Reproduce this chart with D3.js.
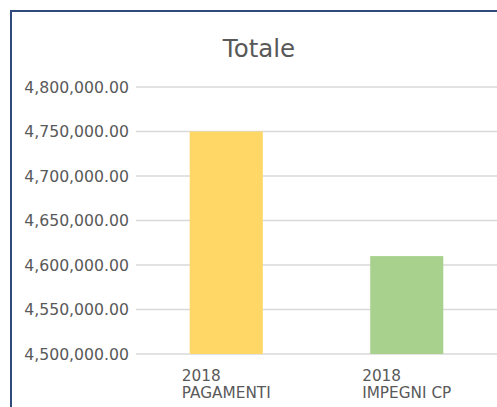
<!DOCTYPE html>
<html>
<head>
<meta charset="utf-8">
<script src="https://cdn.jsdelivr.net/npm/d3@7"></script>
<style>
  html, body { margin: 0; padding: 0; background: #fff; }
  svg { display: block; font-family: "DejaVu Sans", sans-serif; }
</style>
</head>
<body>
<div id="chart"></div>
<script>
const categories = [["2018", "PAGAMENTI"], ["2018", "IMPEGNI CP"]]
const values = [4750000, 4610000]
const barColors = ["#fed766", "#a9d18e"]
const yTicks = [4500000, 4550000, 4600000, 4650000, 4700000, 4750000, 4800000]
const title = "Totale"

const width = 497
const height = 407
const margin = { top: 87, right: 0, bottom: 53, left: 136 }

const svg = d3.select("#chart").append("svg")
  .attr("width", width).attr("height", height)

// chart frame (only top/left edges visible in the crop)
svg.append("path")
  .attr("d", `M11,${height + 5} V11 H${width + 5}`)
  .attr("fill", "none").attr("stroke", "#2f4b7c").attr("stroke-width", 2)

const x = d3.scaleBand().domain(d3.range(categories.length))
  .range([margin.left, width - margin.right]).padding(0)
const y = d3.scaleLinear().domain([4500000, 4800000])
  .range([height - margin.bottom, margin.top])

// gridlines
svg.append("g")
  .selectAll("line")
  .data(yTicks)
  .join("line")
  .attr("x1", margin.left).attr("x2", width)
  .attr("y1", d => y(d)).attr("y2", d => y(d))
  .attr("stroke", "#d9d9d9").attr("stroke-width", 1.3)

// y axis labels
svg.append("g")
  .attr("transform", `translate(${margin.left},0)`)
  .call(d3.axisLeft(y).tickValues(yTicks).tickSize(0).tickPadding(7)
    .tickFormat(d3.format(",.2f")))
  .call(g => g.select(".domain").remove())
  .call(g => g.selectAll(".tick text")
    .attr("font-family", "DejaVu Sans").attr("font-size", 15.7)
    .attr("fill", "#595959"))

// bars
const barW = x.bandwidth() * 0.405
svg.append("g")
  .selectAll("rect")
  .data(values)
  .join("rect")
  .attr("x", (d, i) => x(i) + x.bandwidth() / 2 - barW / 2)
  .attr("width", barW)
  .attr("y", d => y(d))
  .attr("height", d => y(4500000) - y(d))
  .attr("fill", (d, i) => barColors[i])

// category labels (two lines, block centered, lines left-aligned)
const labels = svg.append("g")
  .selectAll("text")
  .data(categories)
  .join("text")
  .attr("font-size", 15.3)
  .attr("fill", "#595959")
labels.each(function(lines, i) {
  const t = d3.select(this)
  lines.forEach((line, j) => {
    t.append("tspan").attr("x", 0).attr("y", 381 + j * 16.5).text(line)
  })
  const w = this.getBBox().width
  t.attr("transform", `translate(${x(i) + x.bandwidth() / 2 - w / 2},0)`)
})

// title
svg.append("text")
  .attr("x", 259).attr("y", 57)
  .attr("text-anchor", "middle")
  .attr("font-size", 24.5)
  .attr("fill", "#595959")
  .text(title)
</script>
</body>
</html>
